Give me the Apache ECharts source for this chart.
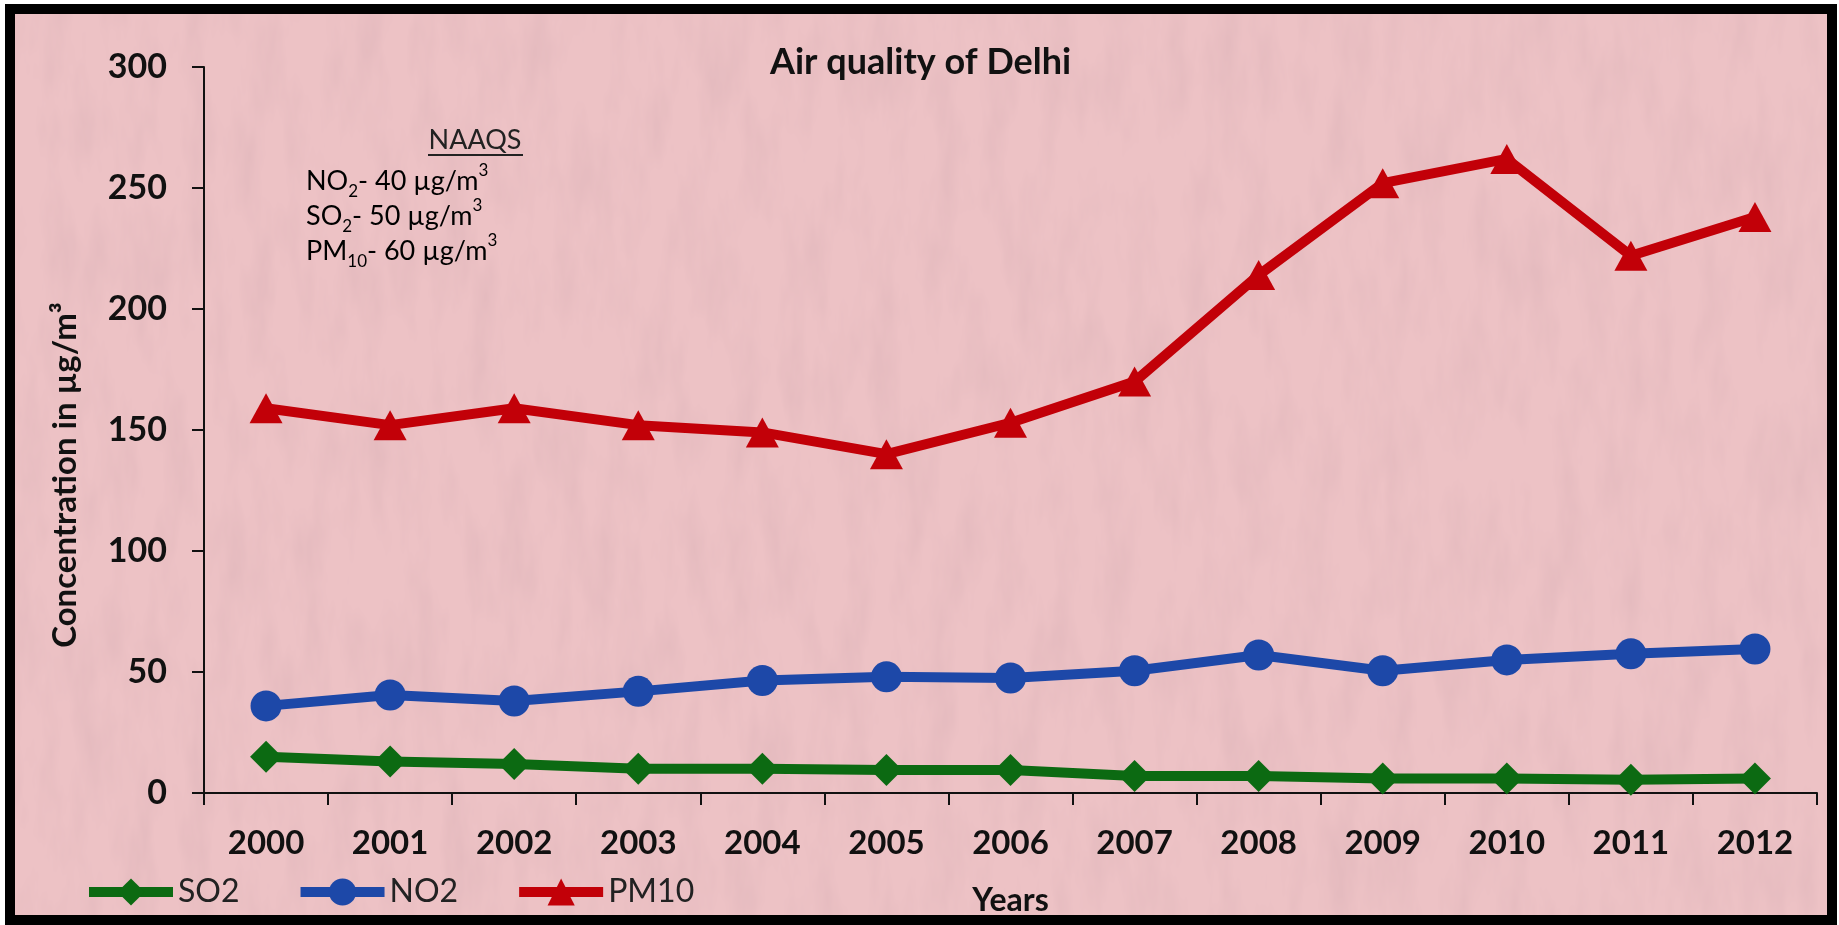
<!DOCTYPE html>
<html>
<head>
<meta charset="utf-8">
<script src="https://cdn.jsdelivr.net/npm/echarts@6/dist/echarts.min.js"></script>
<style>
  html, body { margin: 0; padding: 0; background: #fff; width: 1839px; height: 925px; overflow: hidden; }
  #frame {
    position: absolute; left: 5px; top: 4px; width: 1832px; height: 921px;
    box-sizing: border-box; border: 10px solid #000; background-color: #edc2c5;
  }
  #chart { position: absolute; left: 0; top: 0; width: 1839px; height: 925px; }
</style>
</head>
<body>
<div id="frame"></div>
<div id="chart"></div>
<script>
// Annual mean concentrations in Delhi (µg/m³)
const years = ['2000', '2001', '2002', '2003', '2004', '2005', '2006', '2007', '2008', '2009', '2010', '2011', '2012'];
const so2  = [15, 13, 12, 10, 10, 9.5, 9.5, 7, 7, 6, 6, 5.5, 6];
const no2  = [36, 40.5, 38, 42, 46.5, 48, 47.5, 50.5, 57, 50.5, 55, 57.5, 59.5];
const pm10 = [159, 152, 159, 152, 149, 140, 153, 170, 214, 252, 262, 222, 238];

// Soft mottled paper texture for the chart background
(function () {
  const svg = "<svg xmlns='http://www.w3.org/2000/svg' width='1839' height='925'>" +
    "<filter id='n' x='0' y='0' width='100%' height='100%'>" +
    "<feTurbulence type='fractalNoise' baseFrequency='0.035 0.01' numOctaves='4' seed='11'/>" +
    "<feColorMatrix values='0 0 0 0 0.70  0 0 0 0 0.44  0 0 0 0 0.47  0 0 0 0.85 -0.34'/>" +
    "</filter><rect width='100%' height='100%' filter='url(#n)'/></svg>";
  document.getElementById('frame').style.backgroundImage =
    'url("data:image/svg+xml;charset=utf-8,' + encodeURIComponent(svg) + '")';
})();

const FONT = 'Lato, "Open Sans", sans-serif';
const GREEN = '#0c6a12';
const BLUE = '#1d48a8';
const RED = '#c20008';

const chart = echarts.init(document.getElementById('chart'), null, { renderer: 'canvas' });

const naaqsRich = {
  a: { fontFamily: FONT, fontSize: 27, color: '#222', lineHeight: 38 },
  s: { fontFamily: FONT, fontSize: 17, color: '#222', lineHeight: 38, verticalAlign: 'bottom' },
  p: { fontFamily: FONT, fontSize: 17, color: '#222', lineHeight: 38, verticalAlign: 'top' }
};

const option = {
  backgroundColor: 'transparent',
  textStyle: { fontFamily: FONT },
  title: {
    text: 'Air quality of Delhi',
    left: 770, top: 44, padding: 0,
    textStyle: { fontFamily: FONT, fontSize: 36, fontWeight: 'bold', color: '#111' }
  },
  grid: { left: 204, right: 22, top: 67, bottom: 132, containLabel: false },
  legend: {
    left: 84, top: 876, padding: 0,
    itemWidth: 84, itemHeight: 34, itemGap: 56,
    lineStyle: { width: 10 },
    textStyle: { fontFamily: FONT, fontSize: 32, color: '#222' },
    data: ['SO2', 'NO2', 'PM10']
  },
  xAxis: {
    type: 'category',
    data: years,
    boundaryGap: true,
    name: 'Years',
    nameLocation: 'middle',
    nameGap: 92,
    nameTextStyle: { fontFamily: FONT, fontSize: 32, fontWeight: 'bold', color: '#111' },
    axisLine: { lineStyle: { color: '#111', width: 2 } },
    axisTick: { show: true, inside: false, length: 12, alignWithLabel: false, lineStyle: { color: '#111', width: 2 } },
    axisLabel: { margin: 34, fontFamily: FONT, fontSize: 33, fontWeight: 'bold', color: '#111' },
    splitLine: { show: false }
  },
  yAxis: {
    type: 'value',
    min: 0, max: 300, interval: 50,
    name: 'Concentration in µg/m³',
    nameLocation: 'middle',
    nameGap: 122,
    nameRotate: 90,
    nameTextStyle: { fontFamily: FONT, fontSize: 33, fontWeight: 'bold', color: '#111', padding: [0, 90, 0, 0] },
    axisLine: { show: true, lineStyle: { color: '#111', width: 2 } },
    axisTick: { show: true, inside: false, length: 12, lineStyle: { color: '#111', width: 2 } },
    axisLabel: { margin: 37, fontFamily: FONT, fontSize: 34, fontWeight: 'bold', color: '#111' },
    splitLine: { show: false }
  },
  graphic: [
    {
      type: 'text', x: 475, y: 140,
      style: { text: 'NAAQS', fontFamily: FONT, fontSize: 27, fill: '#222', align: 'center', verticalAlign: 'middle' }
    },
    {
      type: 'line',
      shape: { x1: 428, y1: 155, x2: 523, y2: 155 },
      style: { stroke: '#222', lineWidth: 2 }
    },
    {
      type: 'text', x: 306, y: 181,
      style: { text: '{a|NO}{s|2}{a|- 40 µg/m}{p|3}', rich: naaqsRich, verticalAlign: 'middle', align: 'left' }
    },
    {
      type: 'text', x: 306, y: 216,
      style: { text: '{a|SO}{s|2}{a|- 50 µg/m}{p|3}', rich: naaqsRich, verticalAlign: 'middle', align: 'left' }
    },
    {
      type: 'text', x: 306, y: 251,
      style: { text: '{a|PM}{s|10}{a|- 60 µg/m}{p|3}', rich: naaqsRich, verticalAlign: 'middle', align: 'left' }
    }
  ],
  series: [
    {
      name: 'SO2', type: 'line', data: so2,
      symbol: 'diamond', symbolSize: [32, 32],
      lineStyle: { color: GREEN, width: 10 },
      itemStyle: { color: GREEN },
      emphasis: { disabled: true }
    },
    {
      name: 'NO2', type: 'line', data: no2,
      symbol: 'circle', symbolSize: 31,
      lineStyle: { color: BLUE, width: 10 },
      itemStyle: { color: BLUE },
      emphasis: { disabled: true }
    },
    {
      name: 'PM10', type: 'line', data: pm10,
      symbol: 'triangle', symbolSize: [33, 30],
      lineStyle: { color: RED, width: 10 },
      itemStyle: { color: RED },
      emphasis: { disabled: true }
    }
  ],
  animation: false
};

chart.setOption(option);
</script>
</body>
</html>
